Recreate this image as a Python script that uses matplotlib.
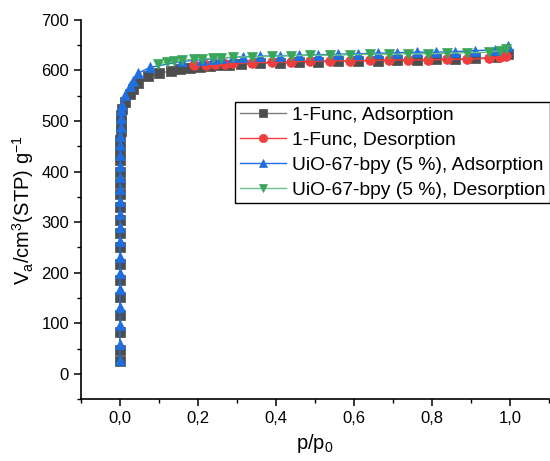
import matplotlib
matplotlib.use("Agg")
import matplotlib.pyplot as plt
from matplotlib.ticker import MultipleLocator, FuncFormatter

plt.rcParams["font.family"] = ["Liberation Sans", "DejaVu Sans"]
plt.rcParams["mathtext.default"] = "regular"

# ---------------------------------------------------------------
#  Data read off the reference isotherm
# ---------------------------------------------------------------
func_ads_p = [0.00002, 0.00004, 0.00006, 0.00008, 0.0001, 0.00013, 0.00016,
              0.0002, 0.00025, 0.0003, 0.00036, 0.00043, 0.0005, 0.0006,
              0.0008, 0.001, 0.0013, 0.0017, 0.0022, 0.003, 0.005, 0.013,
              0.026, 0.033, 0.046, 0.072, 0.1, 0.13, 0.155, 0.18, 0.205,
              0.23, 0.255, 0.28, 0.31, 0.36, 0.41, 0.46, 0.508, 0.559, 0.61,
              0.662, 0.71, 0.762, 0.81, 0.859, 0.91, 0.962, 0.995]
func_ads_v = [25, 48, 82, 117, 152, 185, 218, 250, 278, 305, 330, 355, 378,
              400, 422, 443, 462, 480, 497, 511, 523, 538, 553, 564, 576,
              588, 594, 599, 602, 605, 607, 609, 610, 611, 612, 614, 615,
              616, 617, 618, 619, 619, 620, 621, 622, 622, 624, 626, 633]

func_des_p = [0.99, 0.974, 0.946, 0.89, 0.84, 0.79, 0.74, 0.69, 0.641, 0.59,
              0.538, 0.487, 0.44, 0.39, 0.34, 0.29, 0.27, 0.245, 0.22, 0.19]
func_des_v = [629, 627, 624, 622, 622, 621, 621, 620, 620, 619, 619, 618,
              617, 616, 615, 614, 613, 612, 611, 610]

bpy_ads_p = [0.00002, 0.00004, 0.00006, 0.00008, 0.0001, 0.00013, 0.00016,
             0.0002, 0.00025, 0.0003, 0.00036, 0.00043, 0.0005, 0.0006,
             0.0008, 0.001, 0.0013, 0.0017, 0.0022, 0.003, 0.005, 0.013,
             0.026, 0.033, 0.046, 0.077, 0.16, 0.21, 0.24, 0.26, 0.29,
             0.315, 0.36, 0.41, 0.46, 0.508, 0.559, 0.61, 0.662, 0.71,
             0.762, 0.81, 0.859, 0.91, 0.962, 0.995]
bpy_ads_v = [28, 60, 97, 133, 168, 200, 232, 262, 290, 316, 342, 366, 390,
             412, 432, 452, 471, 489, 505, 521, 531, 551, 570, 580, 594, 606,
             618, 621, 623, 624, 626, 627, 628, 629, 630, 631, 632, 633, 634,
             635, 636, 636, 637, 639, 641, 648]

bpy_des_p = [0.99, 0.974, 0.946, 0.89, 0.84, 0.79, 0.74, 0.69, 0.641, 0.59,
             0.538, 0.487, 0.44, 0.39, 0.34, 0.29, 0.26, 0.24, 0.21, 0.19,
             0.16, 0.14, 0.12, 0.097]
bpy_des_v = [643, 639, 636, 635, 634, 633, 633, 632, 632, 631, 630, 630,
             629, 628, 627, 626, 625, 624, 623, 622, 620, 618, 616, 613]

series = [
    (func_ads_p, func_ads_v, "s", "#4d4d4d", "#7f7f7f", "1-Func, Adsorption"),
    (func_des_p, func_des_v, "o", "#f23d3d", "#f23d3d", "1-Func, Desorption"),
    (bpy_ads_p, bpy_ads_v, "^", "#1f6fe0", "#1f6fe0",
     "UiO-67-bpy (5 %), Adsorption"),
    (bpy_des_p, bpy_des_v, "v", "#3aa65c", "#6cc28a",
     "UiO-67-bpy (5 %), Desorption"),
]

fig = plt.figure(figsize=(5.5, 4.61), dpi=100)
ax = fig.add_axes([0.147, 0.134, 0.851, 0.823])

for p, v, marker, mcolor, lcolor, label in series:
    ax.plot(p, v, color=lcolor, linewidth=1.0, marker=marker,
            markersize=7, markerfacecolor=mcolor, markeredgecolor=mcolor,
            markeredgewidth=0.5, label=label)

ax.set_xlim(-0.1, 1.1)
ax.set_ylim(-50, 700)
ax.xaxis.set_major_locator(MultipleLocator(0.2))
ax.xaxis.set_minor_locator(MultipleLocator(0.1))
ax.yaxis.set_major_locator(MultipleLocator(100))
ax.yaxis.set_minor_locator(MultipleLocator(50))
ax.xaxis.set_major_formatter(FuncFormatter(lambda x, _: f"{x:.1f}".replace(".", ",")))
ax.yaxis.set_major_formatter(FuncFormatter(lambda y, _: f"{y:.0f}"))

for side in ("top", "right"):
    ax.spines[side].set_visible(False)
for side in ("left", "bottom"):
    ax.spines[side].set_linewidth(1.2)

ax.tick_params(which="major", direction="out", length=5, width=1.1,
               labelsize=12)
ax.tick_params(which="minor", direction="out", length=3, width=1.0)

ax.set_xlabel("p/p$_0$", fontsize=14.5)
ax.set_ylabel("V$_a$/cm$^3$(STP) g$^{-1}$", fontsize=14.5)

leg = ax.legend(loc="upper left", bbox_to_anchor=(0.329, 0.784),
                fontsize=13.9, frameon=True, fancybox=False, framealpha=1,
                edgecolor="black", handlelength=2.4, handletextpad=0.3,
                borderpad=0.25, labelspacing=0.38, borderaxespad=0,
                markerscale=0.85)
leg.get_frame().set_linewidth(1.0)

fig.savefig("out.png", dpi=100)
